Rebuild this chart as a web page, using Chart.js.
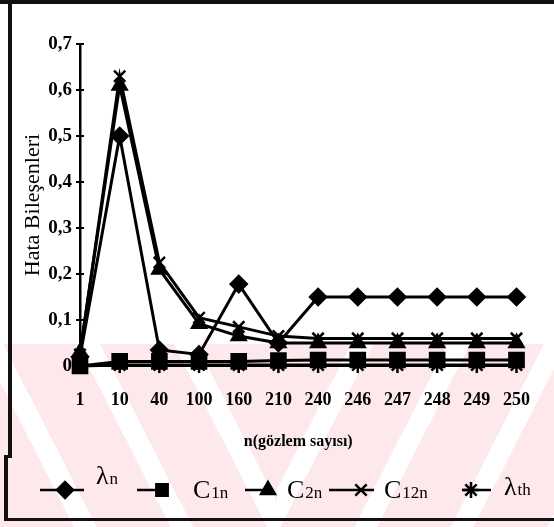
<!DOCTYPE html>
<html>
<head>
<meta charset="utf-8">
<script src="https://cdn.jsdelivr.net/npm/chart.js@4/dist/chart.umd.min.js"></script>
<style>
  html, body { margin: 0; padding: 0; background: #fff; overflow: hidden; }
  #wrap { position: relative; width: 554px; height: 527px; }
  .wm { position: absolute; top: 344px; height: 183px; }
  #wmL { left: 0; width: 277px; background: repeating-linear-gradient(63deg, #fde8ec 0 66px, #fff 66px 86px); }
  #wmR { left: 277px; width: 277px; background: repeating-linear-gradient(117deg, #fde8ec 0 66px, #fff 66px 86px); }
  .bar { position: absolute; background: #111; }
  canvas { position: absolute; left: 0; top: 0; }
</style>
</head>
<body>
<div id="wrap">
  <div class="wm" id="wmL"></div>
  <div class="wm" id="wmR"></div>
  <canvas id="errChart"></canvas>
  <div class="bar" style="left:0;top:0;width:554px;height:4px"></div>
  <div class="bar" style="left:8px;top:0;width:4px;height:458px"></div>
  <div class="bar" style="left:4px;top:455px;width:4px;height:66px"></div>
  <div class="bar" style="left:4px;top:518px;width:550px;height:3px"></div>
</div>
<script>
// n (gözlem sayısı) categories
const sampleSizes = ['1', '10', '40', '100', '160', '210', '240', '246', '247', '248', '249', '250'];

// error components
const lambdaN  = [0.02, 0.50, 0.035, 0.025, 0.178, 0.05, 0.15, 0.15, 0.15, 0.15, 0.15, 0.15];
const c1n      = [0.0, 0.01, 0.01, 0.01, 0.01, 0.012, 0.013, 0.013, 0.013, 0.013, 0.013, 0.013];
const c2n      = [0.03, 0.61, 0.21, 0.092, 0.065, 0.05, 0.05, 0.05, 0.05, 0.05, 0.05, 0.05];
const c12n     = [0.025, 0.63, 0.225, 0.105, 0.085, 0.065, 0.06, 0.06, 0.06, 0.06, 0.06, 0.06];
const lambdaTh = [0, 0.002, 0.002, 0.002, 0.002, 0.002, 0.002, 0.002, 0.002, 0.002, 0.002, 0.002];

const yTicks = [0, 0.1, 0.2, 0.3, 0.4, 0.5, 0.6, 0.7];

// legend slots (line start/end, marker x, text x, text baseline)
const legendY = 490;
const legendSlots = [
    { x0: 40,  x1: 84,  mark: 65,  tx: 96,  base: 484 },
    { x0: 137, x1: 168, mark: 162, tx: 193, base: 498 },
    { x0: 245, x1: 272, mark: 268, tx: 287, base: 498 },
    { x0: 329, x1: 374, mark: 361, tx: 384, base: 498 },
    { x0: 462, x1: 491, mark: 471, tx: 504, base: 495 }
];

Chart.defaults.font.family = '"Liberation Serif", "DejaVu Serif", serif';
Chart.defaults.color = '#000';

function series(label, data, style, radius) {
    return {
        label: label,
        data: data,
        borderColor: '#000',
        backgroundColor: '#000',
        borderWidth: 3,
        pointStyle: style,
        pointRadius: radius,
        pointBorderWidth: 2.5,
        pointBackgroundColor: '#000',
        pointBorderColor: '#000',
        tension: 0,
        clip: false
    };
}

// short inward tick marks on the y axis, like the original
const innerTicks = {
    id: 'innerTicks',
    afterDraw(chart) {
        const y = chart.scales.y;
        const ctx = chart.ctx;
        ctx.save();
        ctx.strokeStyle = '#000';
        ctx.lineWidth = 2;
        yTicks.forEach(v => {
            const py = y.getPixelForValue(v);
            ctx.beginPath();
            ctx.moveTo(y.right, py);
            ctx.lineTo(y.right + 4, py);
            ctx.stroke();
        });
        ctx.restore();
    }
};

// legend row: "—◆— λn" style entries with subscripts
const lineLegend = {
    id: 'lineLegend',
    afterDraw(chart) {
        const ctx = chart.ctx;
        ctx.save();
        chart.data.datasets.forEach((ds, i) => {
            const s = legendSlots[i];
            ctx.strokeStyle = '#000';
            ctx.fillStyle = '#000';
            ctx.lineWidth = 2.5;
            ctx.beginPath();
            ctx.moveTo(s.x0, legendY);
            ctx.lineTo(s.x1, legendY);
            ctx.stroke();
            Chart.helpers.drawPoint(ctx, {
                pointStyle: ds.pointStyle,
                radius: 8,
                borderWidth: 2.5,
                rotation: 0
            }, s.mark, legendY);

            const main = ds.label.slice(0, 1);
            const sub = ds.label.slice(1);
            ctx.textBaseline = 'alphabetic';
            ctx.textAlign = 'left';
            ctx.font = '26px "Liberation Serif", serif';
            ctx.fillText(main, s.tx, s.base);
            const w = ctx.measureText(main).width;
            ctx.font = '17px "Liberation Serif", serif';
            ctx.fillText(sub, s.tx + w + 1, s.base);
        });
        ctx.restore();
    }
};

new Chart(document.getElementById('errChart'), {
    type: 'line',
    data: {
        labels: sampleSizes,
        datasets: [
            series('λn', lambdaN, 'rectRot', 8),
            series('C1n', c1n, 'rect', 10),
            series('C2n', c2n, 'triangle', 8),
            series('C12n', c12n, 'crossRot', 8),
            series('λth', lambdaTh, 'star', 8)
        ]
    },
    options: {
        responsive: true,
        maintainAspectRatio: false,
        animation: false,
        layout: { padding: { top: 44, right: 26, bottom: 0, left: 0 } },
        plugins: {
            legend: { display: false },
            tooltip: { enabled: false }
        },
        scales: {
            x: {
                offset: false,
                afterFit: s => { s.height = 161; },
                grid: { display: false, drawTicks: false },
                border: { display: true, color: '#000', width: 2 },
                ticks: {
                    padding: 24,
                    autoSkip: false,
                    maxRotation: 0,
                    font: { size: 18, weight: 'bold' }
                },
                title: {
                    display: true,
                    text: 'n(gözlem sayısı)',
                    font: { size: 16, weight: 'bold' },
                    padding: { top: 0, bottom: 76 }
                }
            },
            y: {
                min: 0,
                max: 0.7,
                afterFit: s => { s.width = 80; },
                afterBuildTicks: s => { s.ticks = yTicks.map(v => ({ value: v })); },
                grid: { drawOnChartArea: false, drawTicks: true, tickLength: 4, color: '#000', lineWidth: 2 },
                border: { display: true, color: '#000', width: 2.5 },
                ticks: {
                    padding: 4,
                    font: { size: 19, weight: 'bold' },
                    callback: v => v === 0 ? '0' : (Math.round(v * 10) / 10).toFixed(1).replace('.', ',')
                },
                title: {
                    display: true,
                    text: 'Hata Bileşenleri',
                    font: { size: 22 },
                    padding: { top: 20, bottom: 0 }
                }
            }
        }
    },
    plugins: [innerTicks, lineLegend]
});
</script>
</body>
</html>
